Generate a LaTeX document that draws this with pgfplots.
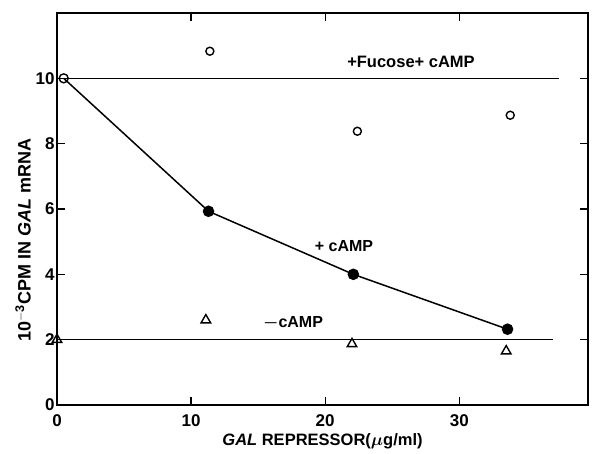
\documentclass[border=0pt]{standalone}
\usepackage{amsmath}
\usepackage{pgfplots}
\pgfplotsset{compat=1.18}
\usepackage{fontspec}
\setmainfont{Liberation Sans}
\begin{document}
\begin{tikzpicture}
\begin{axis}[
  scale only axis, width=531pt, height=392pt,
  xmin=0, xmax=39.6, ymin=0, ymax=12,
  xtick={0,10,20,30}, ytick={0,2,4,6,8,10},
  tick align=inside, major tick length=8pt,
  tick style={black, line width=1.2pt},
  axis line style={line width=1.3pt},
  /pgf/number format/assume math mode=true,
  tick label style={font=\fontsize{17}{20}\selectfont\bfseries},
  xticklabel style={yshift=-6pt},
  yticklabel style={xshift=1pt},
  label style={font=\fontsize{16.5}{19}\selectfont\bfseries},
  xlabel={\textit{GAL} REPRESSOR($\boldsymbol{\mu}$g/ml)},
  ylabel={10$^{\mathsf{\mathbf{-3}}}$CPM IN \textit{GAL} mRNA},
  xlabel style={yshift=0pt},
  ylabel style={font=\fontsize{18}{21}\selectfont\bfseries, at={(ticklabel cs:0.42)}, yshift=-2pt},
  clip=false,
]
\addplot[black, line width=1.5pt] coordinates {(0.5,10) (37.4,10)};
\addplot[black, line width=1.5pt] coordinates {(0,2) (37.0,2)};
\addplot[black, line width=1.5pt, mark=*, mark size=5pt, mark options={fill=black}] coordinates {(11.3,5.93) (22.1,4.0) (33.6,2.32)};
\addplot[black, line width=1.5pt] coordinates {(0.5,10) (11.3,5.93)};
\addplot[only marks, mark=o, mark size=4.5pt, mark options={line width=1.4pt, fill=white}] coordinates {(0.5,10)};
\addplot[only marks, mark=o, mark size=4pt, mark options={line width=1.4pt, fill=white}] coordinates {(11.4,10.83) (22.4,8.38) (33.8,8.87)};
\addplot[only marks, mark=triangle, mark size=5.5pt, mark options={line width=1.4pt, fill=white}] coordinates {(0,2) (11.1,2.6) (22.0,1.87) (33.5,1.65)};
\node[font=\fontsize{16.5}{19}\selectfont\bfseries] at (axis cs:26.4,10.5) {+Fucose+ cAMP};
\node[font=\fontsize{16}{19}\selectfont\bfseries] at (axis cs:21.4,4.85) {+ cAMP};
\node[font=\fontsize{16}{19}\selectfont\bfseries] at (axis cs:17.6,2.5) {$\boldsymbol{-}$cAMP};
\end{axis}
\pgfresetboundingbox
\path (-57pt,-49pt) rectangle (537pt,405pt);
\end{tikzpicture}
\end{document}
